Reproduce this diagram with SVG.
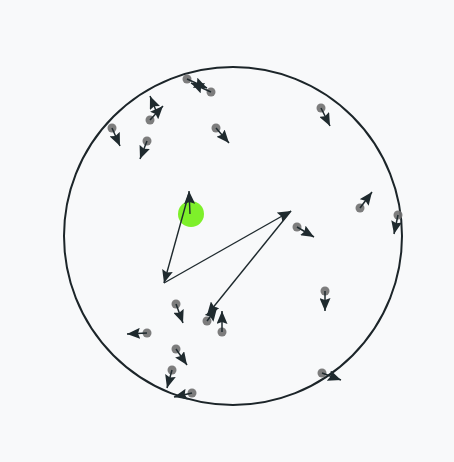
<svg xmlns="http://www.w3.org/2000/svg" width="454" height="462" viewBox="0 0 454 462">
<style>
.bg{fill:#f8f9fa}
.ring{fill:none;stroke:#1c2529;stroke-width:2}
.dot{fill:#6f6f6f;opacity:0.9}
.arr{stroke:#1f2a2e;stroke-width:1.5;fill:none;marker-end:url(#ah)}
.big{stroke:#1f2a2e;stroke-width:1.4;fill:none;marker-end:url(#ah)}
</style>
<defs>
<marker id="ah" markerUnits="userSpaceOnUse" markerWidth="14" markerHeight="11" refX="13" refY="5.5" orient="auto">
<path d="M0,0 L13,5.5 L0,11 L2,5.5 Z" fill="#1f2a2e"/>
</marker>
</defs>
<rect class="bg" width="454" height="462"/>
<g id="boundary"><circle class="ring" cx="233" cy="236" r="169"/></g>
<g id="agent"><circle cx="191" cy="214" r="13" fill="#7ef02a"/></g>
<g id="particles">
<circle class="dot" cx="187" cy="79" r="4.5"/>
<circle class="dot" cx="211" cy="92" r="4.5"/>
<circle class="dot" cx="150" cy="120" r="4.5"/>
<circle class="dot" cx="112" cy="128" r="4.5"/>
<circle class="dot" cx="147" cy="141" r="4.5"/>
<circle class="dot" cx="216" cy="128" r="4.5"/>
<circle class="dot" cx="321" cy="108" r="4.5"/>
<circle class="dot" cx="360" cy="208" r="4.5"/>
<circle class="dot" cx="398" cy="215" r="4.5"/>
<circle class="dot" cx="297" cy="227" r="4.5"/>
<circle class="dot" cx="176" cy="304" r="4.5"/>
<circle class="dot" cx="207" cy="321" r="4.5"/>
<circle class="dot" cx="222" cy="332" r="4.5"/>
<circle class="dot" cx="147" cy="333" r="4.5"/>
<circle class="dot" cx="176" cy="349" r="4.5"/>
<circle class="dot" cx="172" cy="370" r="4.5"/>
<circle class="dot" cx="192" cy="393" r="4.5"/>
<circle class="dot" cx="325" cy="291" r="4.5"/>
<circle class="dot" cx="322" cy="373" r="4.5"/>
</g>
<g id="connectors">
<line class="arr" x1="187" y1="79" x2="207" y2="88"/>
<line class="arr" x1="211" y1="92" x2="191" y2="83"/>
<line class="arr" x1="150" y1="120" x2="163" y2="106"/>
<line class="arr" x1="157" y1="113" x2="150" y2="96"/>
<line class="arr" x1="112" y1="128" x2="120" y2="146"/>
<line class="arr" x1="147" y1="141" x2="140" y2="159"/>
<line class="arr" x1="216" y1="128" x2="229" y2="143"/>
<line class="arr" x1="321" y1="108" x2="330" y2="126"/>
<line class="arr" x1="360" y1="208" x2="372" y2="192"/>
<line class="arr" x1="398" y1="215" x2="394" y2="234"/>
<line class="arr" x1="297" y1="227" x2="314" y2="237"/>
<line class="arr" x1="176" y1="304" x2="183" y2="323"/>
<line class="arr" x1="207" y1="321" x2="217" y2="308"/>
<line class="arr" x1="222" y1="332" x2="222" y2="311"/>
<line class="arr" x1="147" y1="333" x2="127" y2="334"/>
<line class="arr" x1="176" y1="349" x2="187" y2="365"/>
<line class="arr" x1="172" y1="370" x2="167" y2="388"/>
<line class="arr" x1="192" y1="393" x2="174" y2="397"/>
<line class="arr" x1="325" y1="291" x2="325" y2="311"/>
<line class="arr" x1="322" y1="373" x2="341" y2="380"/>
<line class="big" x1="190" y1="214" x2="189" y2="191"/>
<line class="big" x1="189" y1="193" x2="164" y2="283"/>
<line class="big" x1="164" y1="283" x2="291" y2="211"/>
<line class="big" x1="291" y1="211" x2="207" y2="315"/>
</g>
</svg>
